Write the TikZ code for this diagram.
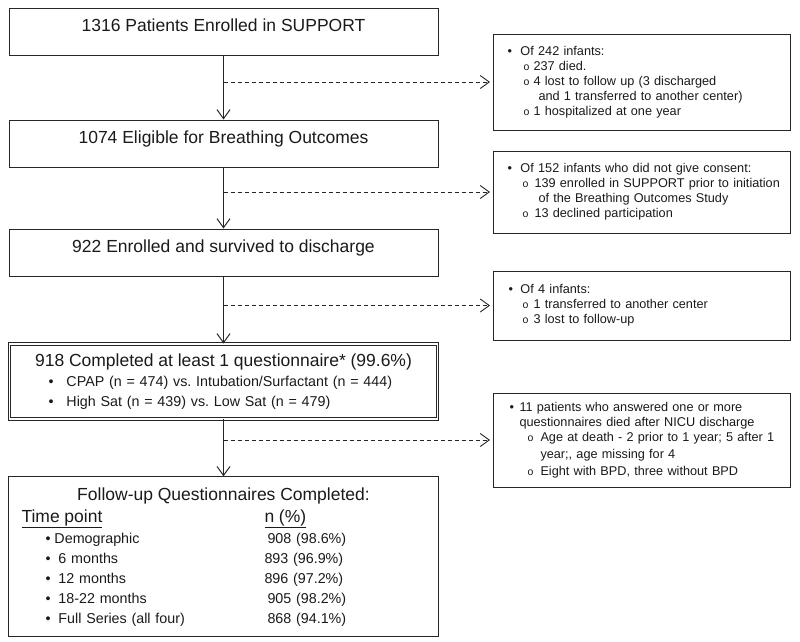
\documentclass[tikz,border=0pt]{standalone}
\usepackage{fontspec}
\setmainfont{Liberation Sans}
\usetikzlibrary{positioning,arrows.meta}
\definecolor{boxline}{HTML}{262626}
\definecolor{boxink}{HTML}{1A1A1A}
\newcommand{\dotitem}[2]{\hspace*{#1}\makebox[#2][l]{\textbullet}}
\newcommand{\ringitem}[2]{\hspace*{#1}\makebox[#2][l]{\fontsize{10.5}{10.5}\selectfont o}}
\frenchspacing

\begin{document}
\begin{tikzpicture}[x=1pt, y=-1pt,
  stagebox/.style={draw=boxline, line width=1pt, minimum width=429pt, minimum height=47pt,
    text height=13pt, text depth=13pt, font=\fontsize{17.5}{21}\selectfont, text=boxink},
  resultbox/.style={draw=boxline, double, double distance=1.6pt, line width=0.8pt,
    minimum width=428pt, minimum height=75pt, inner xsep=11pt, text width=406pt,
    align=left, font=\fontsize{14.3}{20}\selectfont, text=boxink},
  tallybox/.style={draw=boxline, line width=1pt, minimum width=430pt, minimum height=160pt,
    inner xsep=13pt, text width=404pt, align=left, font=\fontsize{14.3}{20}\selectfont,
    text=boxink},
  notebox/.style={draw=boxline, line width=1pt, minimum width=297pt, inner xsep=10pt,
    text width=277pt, align=left, font=\fontsize{12.7}{15}\selectfont, text=boxink},
  flow/.style={-{Straight Barb[length=9pt,width=13pt]}, boxline, line width=1pt},
  sideflow/.style={-{Straight Barb[length=9pt,width=13pt]}, boxline, line width=0.9pt,
    dash pattern=on 4pt off 3pt, shorten >=3pt}]
  \useasboundingbox (0,0) rectangle (800,641);

  \node[stagebox] (enrol) at (223.5,31.5) {1316 Patients Enrolled in SUPPORT};
  \node[stagebox, below=64pt of enrol] (elig) {1074 Eligible for Breathing Outcomes};
  \node[stagebox, below=61pt of elig] (survived) {922 Enrolled and survived to discharge};
  \node[resultbox, below=67pt of survived] (completed) {%
    \makebox[406pt][c]{\fontsize{17.5}{21}\selectfont 918 Completed at least 1 questionnaire* (99.6\%)}\\
    \dotitem{28pt}{18pt}CPAP (n = 474) vs. Intubation/Surfactant (n = 444)\\
    \dotitem{28pt}{18pt}High Sat (n = 439) vs. Low Sat (n = 479)};
  \node[tallybox, below=57pt of completed] (followup) {%
    \makebox[404pt][c]{\fontsize{17.5}{20}\selectfont Follow-up Questionnaires Completed:}\\[2pt]
    {\fontsize{17.5}{20}\selectfont\makebox[243pt][l]{\underline{Time point}}\underline{n (\%)}}\\[1pt]
    \makebox[246pt][l]{\dotitem{24pt}{9pt}Demographic}908 (98.6\%)\\
    \makebox[243pt][l]{\dotitem{24pt}{13pt}6 months}893 (96.9\%)\\
    \makebox[243pt][l]{\dotitem{24pt}{13pt}12 months}896 (97.2\%)\\
    \makebox[246pt][l]{\dotitem{24pt}{13pt}18-22 months}905 (98.2\%)\\
    \makebox[246pt][l]{\dotitem{24pt}{13pt}Full Series (all four)}868 (94.1\%)};

  \node[notebox, minimum height=96pt, anchor=west] (lost) at (493,82) {%
    \dotitem{4pt}{13pt}Of 242 infants:\\
    \ringitem{20pt}{10pt}237 died.\\
    \ringitem{20pt}{10pt}4 lost to follow up (3 discharged\\
    \hspace*{35pt}and 1 transferred to another center)\\
    \ringitem{20pt}{10pt}1 hospitalized at one year};
  \node[notebox, minimum height=82pt, anchor=west] (noconsent) at (493,192) {%
    \dotitem{4pt}{13pt}Of 152 infants who did not give consent:\\
    \ringitem{19pt}{12pt}139 enrolled in SUPPORT prior to initiation\\
    \hspace*{35pt}of the Breathing Outcomes Study\\
    \ringitem{19pt}{12pt}13 declined participation};
  \node[notebox, minimum height=69pt, anchor=west] (transfer) at (493,305.5) {%
    \dotitem{5pt}{12pt}Of 4 infants:\\
    \ringitem{19pt}{11pt}1 transferred to another center\\
    \ringitem{19pt}{11pt}3 lost to follow-up};
  \node[notebox, minimum height=94pt, anchor=west] (deaths) at (493,440) {%
    \dotitem{6pt}{10pt}11 patients who answered one or more\\
    \hspace*{16pt}questionnaires died after NICU discharge\\
    \ringitem{24pt}{13pt}Age at death - 2 prior to 1 year; 5 after 1\\[2pt]
    \hspace*{37pt}year;, age missing for 4\\[2pt]
    \ringitem{24pt}{13pt}Eight with BPD, three without BPD};

  \coordinate (split1) at (enrol.south |- lost.west);
  \coordinate (split2) at (elig.south |- noconsent.west);
  \coordinate (split3) at (survived.south |- transfer.west);
  \coordinate (split4) at (completed.south |- deaths.west);

  \draw[flow] (enrol) -- (elig);
  \draw[flow] (elig) -- (survived);
  \draw[flow] (survived) -- (completed);
  \draw[flow] (completed) -- (followup);
  \draw[sideflow] (split1) -- (lost.west);
  \draw[sideflow] (split2) -- (noconsent.west);
  \draw[sideflow] (split3) -- (transfer.west);
  \draw[sideflow] (split4) -- (deaths.west);
\end{tikzpicture}
\end{document}
